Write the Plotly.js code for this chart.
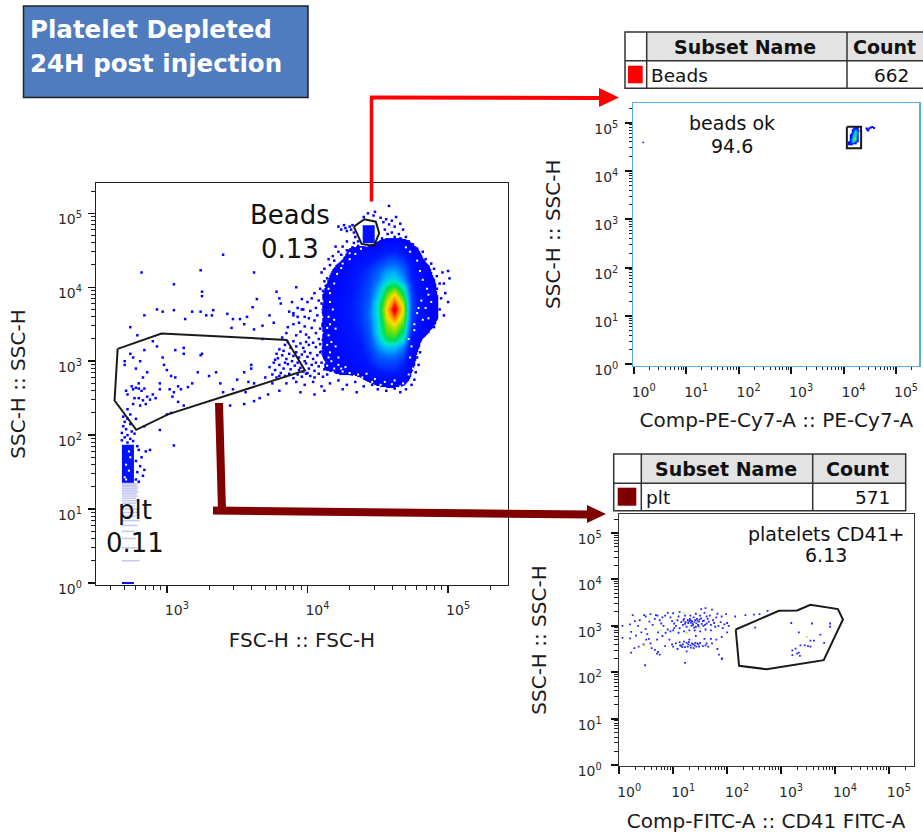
<!DOCTYPE html>
<html><head><meta charset="utf-8">
<script src="https://cdn.plot.ly/plotly-3.0.1.min.js"></script>
<style>html,body{margin:0;padding:0;background:#fff}</style></head>
<body><div id="chart" style="width:923px;height:833px"></div>
<script>
// ---------- tick labels ----------
const tickValsMainX = [1e3, 1e4, 1e5];
const tickTextMainX = ['10<sup>3</sup>', '10<sup>4</sup>', '10<sup>5</sup>'];
const tickValsFull = [1, 10, 100, 1e3, 1e4, 1e5];
const tickTextFull = ['10<sup>0</sup>', '10<sup>1</sup>', '10<sup>2</sup>', '10<sup>3</sup>', '10<sup>4</sup>', '10<sup>5</sup>'];

// ---------- main density (log10 FSC columns, log10 SSC rows, relative density) ----------
const densLogFsc = [3.90,3.96,4.02,4.08,4.14,4.20,4.26,4.32,4.38,4.44,4.50,4.56,4.62,4.68,4.74,4.80,4.86,4.92,4.98,5.04];
const densLogSsc = [4.90,4.80,4.70,4.60,4.50,4.40,4.30,4.20,4.10,4.00,3.90,3.80,3.70,3.60,3.50,3.40,3.30,3.20,3.10,3.00,2.90,2.80,2.70,2.60];
const densZ = [
 [0,0,0,0,0,0,0,0,0, 0, 0, 0, 0, 0, 0, 0,0,0,0,0],
 [0,0,0,0,0,0,0,0,0, 0, 0, 0, 0, 0, 0, 0,0,0,0,0],
 [0,0,0,0,0,0,0,0,0, 0, 0, 0, 0, 0, 0, 0,0,0,0,0],
 [0,0,0,0,0,0,0,0,0, 2, 6,12,14,10, 4, 0,0,0,0,0],
 [0,0,0,0,0,0,2,8,11,13,15,18,20,16, 9, 3,0,0,0,0],
 [0,0,0,0,0,0,5,11,15,18,22,27,29,24,14, 6,0,0,0,0],
 [0,0,0,0,0,4,9,14,19,22,28,35,37,30,18,10,4,0,0,0],
 [0,0,0,0,2,7,11,17,21,26,34,43,45,35,20,12,6,0,0,0],
 [0,0,0,0,4,9,13,19,23,28,38,50,54,42,22,13,7,3,0,0],
 [0,0,0,2,5,10,14,19,24,30,44,62,70,55,26,14,8,3,0,0],
 [0,0,0,3,6,11,15,20,25,32,50,72,84,66,28,15,8,4,2,0],
 [0,0,0,2,7,12,16,21,26,34,56,78,93,76,30,15,8,4,2,0],
 [0,0,0,3,7,12,17,21,26,36,58,83,100,80,30,15,8,4,2,0],
 [0,0,0,2,7,12,17,21,26,36,56,80,92,76,28,15,8,4,2,0],
 [0,0,0,3,8,12,16,20,25,34,54,75,82,70,26,13,7,3,0,0],
 [0,0,0,2,7,11,15,19,23,32,54,70,74,62,22,10,4,0,0,0],
 [0,0,0,3,7,11,14,18,22,30,48,64,66,54,18, 5,0,0,0,0],
 [0,0,2,3,6,10,13,16,20,28,42,50,50,40,12, 3,0,0,0,0],
 [0,0,3,3,7,9,12,15,19,24,34,38,38,30,9, 0,0,0,0,0],
 [0,2,3,2,5,8,11,13,16,22,28,30,30,24, 7, 0,0,0,0,0],
 [0,0,2,3,5,7,9,10,12,17,22,24,24,18, 5, 0,0,0,0,0],
 [0,0,0,0,0,2,3,3,5,11,14,16,16,12, 3, 0,0,0,0,0],
 [0,0,0,0,0,0,0,0,0, 3, 6, 8, 8, 6, 0, 0,0,0,0,0],
 [0,0,0,0,0,0,0,0,0, 0, 0, 0, 0, 0, 0, 0,0,0,0,0]
];
const beadBlockFscEdges = [24700, 30000];
const beadBlockSscEdges = [39800, 69000];
const blockZ = [[15]];

// ---------- platelet column: dense block, discrete low SSC levels ----------
const pltBlockFscEdges = [479, 583];
const pltBlockSscEdges = [22.6, 74];
const pltLevels = [2,3,4,5,6,7,8,9,10,11,12,13,14,15,16,17,18,19,20,21,22];
const pltLevelEnd = [640,610,600,590,620,640,600,625,635,590,600,620,605,625,610,630,615,620,625,610,630];
const pltBottomLevel = [1, 1];
const pltBottomFsc = [479, 583];

// ---------- events, [log10 FSC, log10 SSC] ----------
const gateEvents = [[2.70,3.00],[2.70,2.95],[2.71,2.60],[2.72,2.55],[2.75,2.66],[2.76,2.62],[2.78,2.64],[2.80,2.63],[2.82,2.60],[2.84,2.63],[2.77,2.50],[2.80,2.50],[2.83,2.47],[2.86,2.52],[2.88,2.48],[2.90,2.55],[2.92,2.50],[2.85,2.42],[2.81,2.40],[2.76,2.42],[2.72,2.35],[2.74,2.28],[2.78,2.22],[2.80,2.70],[2.83,2.78],[2.86,2.85],[2.78,2.90],[2.74,3.10],[2.76,3.05],[2.81,3.00],[2.84,3.15],[2.90,3.27],[2.93,3.20],[2.97,3.05],[2.98,2.95],[3.00,2.88],[3.03,2.80],[3.06,2.78],[3.08,2.66],[3.02,2.62],[3.05,2.58],[3.10,2.62],[3.04,2.52],[3.08,2.45],[3.12,2.40],[3.00,2.28],[3.03,2.30],[2.95,2.70],[2.95,2.62],[3.15,2.65],[3.18,2.70],[3.22,2.85],[3.12,3.10],[3.06,3.15],[3.12,3.18],[3.25,3.10],[3.24,3.08],[3.30,2.80],[3.35,2.85],[3.38,2.70],[3.40,2.58],[3.47,2.62],[3.50,2.75],[3.55,2.85],[3.60,2.95],[3.58,2.72],[3.62,2.70],[3.60,2.90],[3.70,2.78],[3.75,2.70],[3.80,2.80],[3.72,2.55],[3.66,2.50],[3.62,2.46],[3.55,2.42],[3.45,2.40],[3.56,2.58],[2.84,2.12],[2.95,2.07],[3.05,1.86]];
const upperEvents = [[2.82,4.20],[3.05,4.04],[3.24,4.23],[3.40,4.44],[3.25,3.94],[3.25,3.88],[3.64,3.84],[3.78,3.94],[3.80,3.85],[3.81,3.78],[3.62,4.20],[3.92,4.00],[3.89,3.80],[3.87,3.67],[3.90,3.65],[3.96,3.70],[3.93,3.60],[3.61,3.73],[3.43,3.64],[3.33,3.69],[3.28,3.62],[3.24,3.67],[3.18,3.67],[3.05,3.69],[2.97,3.67],[2.93,3.70],[2.84,3.62],[3.13,3.57],[3.32,3.62],[3.47,3.57],[3.52,3.57],[3.57,3.60],[3.68,3.48],[3.73,3.62],[3.76,3.52],[3.62,3.43],[3.68,3.30],[2.74,3.46],[2.79,3.35],[3.46,3.45],[3.55,3.50]];
const edgeEvents = [[4.05,3.92],[4.09,3.98],[4.12,3.88],[4.03,3.85],[4.08,3.82],[4.10,3.78],[4.00,3.80],[3.96,3.84],[4.13,3.74],[4.06,3.72],[3.97,3.70],[4.02,3.68],[4.11,3.66],[4.07,3.62],[3.93,3.72],[3.90,3.62],[3.98,3.60],[4.01,3.58],[4.05,3.55],[4.12,3.52],[3.94,3.52],[3.90,3.50],[3.86,3.46],[3.98,3.47],[4.03,3.45],[4.09,3.44],[4.13,3.40],[4.06,3.38],[3.99,3.36],[3.95,3.40],[3.92,3.35],[3.85,3.38],[3.82,3.32],[4.01,3.32],[4.08,3.30],[4.12,3.28],[3.78,3.10],[3.80,3.16],[3.84,3.22],[3.86,3.26],[3.88,3.18],[3.90,3.27],[3.92,3.20],[3.95,3.24],[3.97,3.18],[3.99,3.26],[4.01,3.22],[4.04,3.25],[4.06,3.19],[4.09,3.23],[4.11,3.18],[3.76,2.98],[3.79,3.04],[3.82,3.08],[3.85,3.03],[3.87,3.10],[3.90,3.07],[3.92,3.12],[3.94,3.05],[3.96,3.09],[3.98,3.13],[4.00,3.06],[4.02,3.11],[4.04,3.03],[4.07,3.08],[4.10,3.13],[4.12,3.04],[3.73,2.92],[3.77,2.88],[3.80,2.95],[3.83,2.90],[3.86,2.96],[3.88,2.89],[3.91,2.94],[3.93,2.98],[3.95,2.91],[3.97,2.86],[3.99,2.97],[4.01,2.90],[4.03,2.95],[4.05,2.87],[4.08,2.93],[4.10,2.98],[4.12,2.89],[3.75,2.82],[3.78,2.78],[3.81,2.84],[3.84,2.80],[3.87,2.83],[3.90,2.77],[3.93,2.82],[3.96,2.79],[3.99,2.83],[4.02,2.80],[4.05,2.78],[4.08,2.83],[4.11,2.79],[4.14,2.82],[3.85,2.70],[3.92,2.72],[3.98,2.68],[4.04,2.72],[4.10,2.66],[4.16,2.70],[4.22,2.74],[4.28,2.68],[4.34,2.72],[4.40,2.66],[4.25,2.62],[4.12,2.60],[3.95,2.58],[4.46,2.68],[4.50,2.62],[4.56,2.60],[4.62,2.63],[4.66,2.58],[4.70,2.62],[4.35,2.58],[4.05,2.55],[3.80,2.60],[4.80,4.42],[4.84,4.38],[4.88,4.32],[4.90,4.25],[4.85,4.20],[4.92,4.15],[4.88,4.10],[4.94,4.05],[4.96,4.20],[5.00,4.22],[5.01,4.12],[4.97,4.05],[4.92,3.98],[4.98,3.92],[4.95,3.85],[5.00,3.80],[4.90,3.75],[4.94,3.70],[4.97,3.62],[4.92,3.58],[4.87,3.52],[4.90,3.46],[4.86,3.40],[4.83,3.35],[4.80,3.28],[4.78,3.22],[4.22,4.82],[4.24,4.78],[4.26,4.84],[4.27,4.80],[4.28,4.76],[4.30,4.82],[4.31,4.78],[4.32,4.84],[4.33,4.74],[4.34,4.68],[4.28,4.62],[4.33,4.60],[4.36,4.62],[4.25,4.55],[4.40,4.95],[4.43,5.00],[4.47,4.97],[4.52,4.94],[4.54,4.88],[4.56,4.92],[4.58,4.85],[4.60,4.90],[4.62,4.82],[4.63,4.95],[4.66,4.86],[4.68,4.78],[4.55,4.78],[4.57,4.72],[4.60,4.74],[4.62,4.68],[4.65,4.72],[4.70,4.68],[4.58,5.10],[4.48,5.02],[4.53,4.66],[4.66,4.66],[4.72,4.62],[4.75,4.58],[4.78,4.52],[4.82,4.48],[4.20,4.55],[4.18,4.42],[4.15,4.38],[4.22,4.48],[4.12,4.25],[4.10,4.20],[4.16,4.30],[4.19,4.36],[4.24,4.44],[4.28,4.50],[4.32,4.54],[4.36,4.56],[4.14,4.12],[4.12,4.08],[4.11,3.95],[4.13,4.02],[3.83,3.14],[3.89,3.00],[3.94,2.88],[4.00,2.84],[4.06,2.98],[4.13,2.95],[4.09,3.12],[4.13,3.16],[3.98,3.00],[3.84,2.98],[3.77,3.02],[4.80,3.40],[4.82,3.48],[4.84,3.56],[4.86,3.64],[4.88,3.72],[4.87,3.84],[4.89,3.92],[4.86,4.00],[4.90,4.02],[4.84,4.12],[4.86,4.28],[4.83,4.32],[4.80,3.12],[4.78,3.05],[4.79,2.95],[4.77,2.85],[4.76,2.75],[4.74,2.68]];
const columnEvents = [[2.69,2.25],[2.72,2.22],[2.70,2.18],[2.74,2.15],[2.69,2.12],[2.71,2.08],[2.75,2.05],[2.68,2.03],[2.72,2.00],[2.77,2.02],[2.70,1.97],[2.74,1.95],[2.68,1.93],[2.76,1.92],[2.72,1.90],[2.79,1.85],[2.80,1.80],[2.85,1.78],[2.82,1.70],[2.78,1.65],[2.81,1.58],[2.84,1.53],[2.79,1.50],[2.83,1.45],[2.78,1.40],[2.80,1.37],[2.88,1.80]];
const gapEvents = [[4.15,3.35],[4.17,3.00],[4.16,3.12],[4.19,2.90],[4.22,3.05],[4.18,2.85],[4.25,2.86],[4.30,2.84],[4.14,3.22],[4.20,3.20],[4.24,2.90],[4.36,2.82],[4.42,2.83],[4.48,2.76],[4.55,2.72],[4.62,2.74],[4.68,2.70],[4.72,3.30],[4.74,3.20],[4.73,3.05],[4.75,2.90],[4.72,2.82],[4.76,3.50],[4.78,3.65],[4.74,2.75],[4.86,3.90],[4.82,4.10],[4.18,3.70],[4.16,3.92],[4.25,4.32],[4.30,4.46],[4.15,3.60],[4.16,3.50],[4.14,3.45],[4.15,3.05],[4.17,3.26],[4.14,2.94],[4.16,3.80],[4.15,3.98],[4.19,4.05],[4.21,4.18],[4.24,4.26],[4.30,4.38],[4.34,4.45],[4.38,4.52],[4.42,4.56],[4.20,3.44],[4.19,3.56],[4.22,2.95],[4.27,2.92],[4.33,2.80],[4.39,2.78],[4.46,2.72],[4.52,2.68],[4.60,2.69],[4.66,2.66],[4.76,3.42],[4.79,3.72],[4.81,3.82],[4.84,3.72],[4.86,3.58],[4.82,3.56],[4.80,4.22],[4.78,4.36],[4.73,4.48],[4.70,4.54],[4.85,3.98],[4.88,3.80],[2.71,1.60],[2.73,1.52],[2.70,1.43],[2.74,1.70],[2.71,1.40],[2.73,1.78]];
const beadSideEvents = [[4.44,4.88],[4.45,4.86],[4.47,4.84],[4.49,4.88],[4.52,4.90],[4.55,4.91],[4.58,4.89]];
const beadStrayEvents = [[0.18,4.59]];
const pltFitcEvents = [[.06,3.0],[.06,2.74],[.20,3.03],[.22,2.87],[.29,3.10],[.31,2.79],[.25,3.23],[.46,3.23],[.49,3.20],[.58,3.25],[.68,3.23],[.71,3.22],[.66,3.15],[.49,2.93],[.41,2.86],[.20,2.73],[.56,3.09],[.62,3.02],[.75,3.12],[.78,3.05],[.80,3.18],[.82,3.0],[.85,3.22],[.90,3.28],[.95,3.18],[.98,3.10],[1.0,3.27],[1.02,3.05],[1.05,3.0],[1.08,3.12],[1.1,3.2],[1.12,3.3],[1.15,3.08],[1.18,3.02],[1.2,3.15],[1.22,3.22],[1.25,2.98],[1.28,3.06],[1.3,3.1],[1.32,3.12],[1.34,3.0],[1.36,3.05],[1.38,3.18],[1.4,3.08],[1.42,2.98],[1.44,3.15],[1.46,3.02],[1.48,3.09],[1.5,3.22],[1.52,3.36],[1.55,3.1],[1.56,3.0],[1.58,3.28],[1.6,3.38],[1.62,3.05],[1.64,3.15],[1.66,3.09],[1.68,3.22],[1.7,3.02],[1.72,3.35],[1.74,3.12],[1.76,3.06],[1.78,2.98],[1.8,3.18],[1.82,3.26],[1.84,3.0],[1.88,3.08],[1.9,3.2],[1.92,2.95],[1.95,3.03],[1.98,3.25],[2.0,3.06],[2.03,3.0],[2.0,2.86],[1.9,2.76],[.36,2.55],[.28,2.52],[.22,2.42],[.45,2.6],[.58,2.62],[.6,2.52],[.72,2.44],[.66,2.48],[.75,2.38],[.85,2.56],[.93,2.7],[.98,2.6],[1.0,2.55],[1.05,2.62],[1.08,2.5],[1.12,2.65],[1.15,2.57],[1.18,2.6],[1.2,2.66],[1.22,2.54],[1.25,2.45],[1.28,2.6],[1.3,2.7],[1.32,2.58],[1.35,2.62],[1.38,2.52],[1.4,2.58],[1.42,2.78],[1.45,2.62],[1.48,2.55],[1.5,2.63],[1.55,2.56],[1.58,2.72],[1.6,2.58],[1.62,2.62],[1.65,2.55],[1.7,2.72],[1.72,2.62],[1.8,2.7],[1.82,2.5],[1.22,2.2],[.48,2.15],[1.9,2.28],[1.85,2.38],[.7,2.4],[2.15,3.2],[2.34,3.23],[2.5,3.24],[2.6,3.25],[2.75,3.32],[1.91,2.30],[.35,3.0],[.38,3.12],[.52,2.82],[.5,2.7],[.55,2.72],[.72,2.86],[.8,2.78],[.7,2.7],[.86,2.85],[.9,2.92],[.95,2.88],[1.0,2.9],[1.1,2.85],[1.2,2.88],[1.3,2.9],[1.4,2.9],[1.5,2.88],[1.6,2.92],[1.7,2.9],[1.02,2.95],[1.12,2.95],[1.22,3.04],[1.32,3.22],[1.42,3.26],[1.52,3.16],[1.62,3.2],[1.35,3.10],[1.37,3.02],[1.41,3.12],[1.43,3.06],[1.39,2.96],[1.45,3.11],[1.33,3.07],[1.31,3.15],[1.47,2.99],[1.49,3.14],[1.53,3.04],[1.57,3.11],[1.59,3.02],[1.27,3.12],[1.23,3.08],[1.19,3.11],[1.25,2.63],[1.27,2.55],[1.29,2.65],[1.33,2.53],[1.37,2.6],[1.41,2.63],[1.43,2.55],[1.17,2.54],[1.13,2.58],[1.47,2.6],[3.19,3.06],[3.575,3.05],[3.33,2.86],[3.73,2.81],[3.91,3.05],[3.91,2.98],[3.545,2.68],[3.61,2.68],[3.80,2.63],[3.36,2.58],[3.44,2.58],[3.50,2.56],[3.545,2.55],[3.21,2.47],[3.27,2.51],[3.33,2.42],[3.35,2.35],[3.21,2.37],[3.30,2.40],[2.52,2.96]];
const pltFitcDense = [[.77,2.9],[1.2,3.28],[1.42,3.08],[.47,2.58],[1.35,2.55],[1.25,2.85],[1.5,2.95],[3.48,2.755]];

// ---------- bead density in the PE-Cy7 panel ----------
const beadLogX = [4.10,4.14,4.18,4.215,4.25,4.29];
const beadLogY = [4.90,4.85,4.787,4.725,4.66,4.60,4.56];
const beadZ = [
 [0,0,0,10,10,0],
 [0,0,20,50,40,5],
 [0,5,35,60,45,0],
 [0,15,45,70,30,0],
 [0,30,60,88,30,0],
 [6,30,45,20,0,0],
 [20,12,0,0,0,0]
];

// ---------- gates, [log10 x, log10 y] ----------
const gatePlt = [[2.650,3.167],[2.962,3.374],[3.852,3.288],[3.982,2.874],[3.012,2.284],[2.782,2.072],[2.628,2.468],[2.650,3.167]];
const gateBeads = [[4.330,4.820],[4.404,4.919],[4.486,4.887],[4.510,4.730],[4.472,4.559],[4.385,4.586],[4.330,4.820]];
const gateBeadsOk = [[4.063,4.917],[4.335,4.917],[4.335,4.470],[4.063,4.470],[4.063,4.917]];
const gateCd41 = [[2.16,2.921],[2.222,2.137],[2.732,2.065],[3.791,2.259],[4.148,3.137],[4.055,3.36],[3.545,3.453],[3.298,3.331],[2.96,3.324],[2.16,2.921]];

const pow = v => Math.pow(10, v);
const xs = a => a.map(p => pow(p[0]));
const ys = a => a.map(p => pow(p[1]));

const densCS = [[0,'rgba(255,255,255,0)'],[0.039,'rgba(255,255,255,0)'],[0.04,'#0000ff'],[0.2,'#0018ff'],[0.35,'#0068ff'],[0.45,'#00b0ff'],[0.55,'#00e8c8'],[0.65,'#00dc50'],[0.74,'#80e000'],[0.82,'#ffe000'],[0.9,'#ff8000'],[0.96,'#ff0000'],[1,'#f00000']];

function events(arr, xa, ya, color, size) {
  return {type:'scatter', mode:'markers', xaxis:xa, yaxis:ya, x:xs(arr), y:ys(arr),
    marker:{symbol:'square', size:size, color:color, line:{width:0}}, hoverinfo:'skip', showlegend:false};
}
function gate(arr, xa, ya) {
  return {type:'scatter', mode:'lines', xaxis:xa, yaxis:ya, x:xs(arr), y:ys(arr),
    line:{color:'#1a1a1a', width:2}, hoverinfo:'skip', showlegend:false};
}
const stripeX = [], stripeY = [];
pltLevels.forEach((lv, i) => { stripeX.push(pltBlockFscEdges[0], pltLevelEnd[i], null); stripeY.push(lv, lv, null); });

const traces = [
  {type:'heatmap', xaxis:'x', yaxis:'y', x:densLogFsc.map(pow), y:densLogSsc.map(pow).reverse(), z:densZ.slice().reverse(),
   zmin:0, zmax:100, zsmooth:'best', colorscale:densCS, showscale:false, hoverinfo:'skip'},
  {type:'heatmap', xaxis:'x', yaxis:'y', x:beadBlockFscEdges, y:beadBlockSscEdges, z:blockZ, zmin:0, zmax:100, colorscale:densCS, showscale:false, hoverinfo:'skip'},
  {type:'scatter', mode:'lines', xaxis:'x', yaxis:'y', x:stripeX, y:stripeY, line:{color:'#c6c6f6', width:1.5}, hoverinfo:'skip', showlegend:false, connectgaps:false},
  {type:'scatter', mode:'lines', xaxis:'x', yaxis:'y', x:pltBottomFsc, y:pltBottomLevel, line:{color:'#1010ee', width:2}, hoverinfo:'skip', showlegend:false},
  {type:'heatmap', xaxis:'x', yaxis:'y', x:pltBlockFscEdges, y:pltBlockSscEdges, z:blockZ, zmin:0, zmax:100, colorscale:densCS, showscale:false, hoverinfo:'skip'},
  events(gateEvents,'x','y','#0000ff',2.5),
  events(upperEvents,'x','y','#0000ff',2.5),
  events(edgeEvents,'x','y','#0000ff',2.5),
  events(columnEvents,'x','y','#0000ff',2.5),
  events(gapEvents,'x','y','#ffffff',2),
  gate(gatePlt,'x','y'),
  gate(gateBeads,'x','y'),
  {type:'heatmap', xaxis:'x2', yaxis:'y2', x:beadLogX.map(pow), y:beadLogY.map(pow).reverse(), z:beadZ.slice().reverse(),
   zmin:0, zmax:100, zsmooth:'best', colorscale:densCS, showscale:false, hoverinfo:'skip'},
  events(beadSideEvents,'x2','y2','#0000ff',2),
  events(beadStrayEvents,'x2','y2','#0000ff',1.5),
  gate(gateBeadsOk,'x2','y2'),
  events(pltFitcEvents,'x3','y3','#2222ff',1.8),
  events(pltFitcDense,'x3','y3','#b4ec40',1.8),
  gate(gateCd41,'x3','y3')
];

const W = 923, H = 833;
const px = v => v / W, py = v => 1 - v / H;
const FONT = '"DejaVu Sans", Verdana, sans-serif';

function axis(dom, rng, vals, text, title, anchor, horizontal, lineColor, tw, standoff, labelOff) {
  return {
    type:'log', domain:dom, range:rng, anchor:anchor, tickmode:'array', tickvals:vals, ticktext:text,
    ticks:'outside', ticklen:7, tickwidth:tw, tickcolor:'#111',
    minor:{ticks:'outside', ticklen:3.5, tickwidth:1, tickcolor:'#222', dtick:'D1'},
    showgrid:false, zeroline:false, showline:true, mirror:true, linecolor:lineColor, linewidth:1.2,
    tickfont:{family:FONT, size:14, color:'#2a2a2a'}, ticklabelshift: horizontal ? 10 : 6, ticklabelstandoff:labelOff,
    title:{text:title, font:{family:FONT, size:20, color:'#1a1a1a'}, standoff:standoff}
  };
}

function rect(x0,y0,x1,y1,fill,lineC,lw){return {type:'rect',xref:'paper',yref:'paper',x0:px(x0),x1:px(x1),y0:py(y0),y1:py(y1),fillcolor:fill,line:{color:lineC,width:lw}};}
function seg(x0,y0,x1,y1,c,w){return {type:'line',xref:'paper',yref:'paper',x0:px(x0),x1:px(x1),y0:py(y0),y1:py(y1),line:{color:c,width:w}};}
function tri(pts,c){return {type:'path',xref:'paper',yref:'paper',path:'M'+pts.map(p=>px(p[0])+','+py(p[1])).join(' L')+' Z',fillcolor:c,line:{color:c,width:0}};}
function label(t,x,y,size,opts){return Object.assign({xref:'paper',yref:'paper',x:px(x),y:py(y),text:t,showarrow:false,xanchor:'center',yanchor:'middle',font:{family:FONT,size:size,color:'#111'}},opts||{});}
const bold = (size, color) => ({font:{family:FONT,size:size,color:color,weight:700}});

const RED='#ff0000', DARK='#800000';
const shapes = [
  rect(23.5,6,308,97.5,'#4f7cbe','#222',1.5),
  rect(646.7,32,923,60.7,'#e3e3e3','#333',0),
  rect(625,32,925,88.3,'rgba(0,0,0,0)','#333',1.5),
  seg(625,60.7,923,60.7,'#333',1.5), seg(646.7,32,646.7,88.3,'#333',1.5), seg(847,32,847,88.3,'#333',1.5),
  rect(628,65.7,642.7,83.3,RED,RED,0),
  rect(641.3,454,905.7,483.3,'#e3e3e3','#333',0),
  rect(613.7,454,905.7,510.7,'rgba(0,0,0,0)','#333',1.5),
  seg(613.7,483.3,905.7,483.3,'#333',1.5), seg(641.3,454,641.3,510.7,'#333',1.5), seg(812.7,454,812.7,510.7,'#333',1.5),
  rect(617.7,487.7,636.3,505.7,DARK,DARK,0),
  seg(371.5,201.5,371.5,97,RED,3.5), seg(370,97.5,600,98,RED,4),
  tri([[599,88],[619,97.5],[599,107]],RED),
  seg(219,403,222,510,DARK,8), seg(213,510.5,590,514.5,DARK,8),
  tri([[587,505],[606,514],[587,523]],DARK)
];
const annotations = [
  label('Platelet Depleted',27.5,29,24.5,Object.assign({xanchor:'left'},bold(24.5,'#fff'))),
  label('24H post injection',27.5,64,24.5,Object.assign({xanchor:'left'},bold(24.5,'#fff'))),
  label('Subset Name',745,47,19,bold(19,'#111')),
  label('Count',884,47,19,bold(19,'#111')),
  label('Beads',649,75,18.5,{xanchor:'left'}),
  label('662',891.5,75,18.5),
  label('Subset Name',725.7,469,19,bold(19,'#111')),
  label('Count',857.7,469,19,bold(19,'#111')),
  label('plt',644,497.7,18.5,{xanchor:'left'}),
  label('571',872.7,497.7,18.5),
  label('Beads',290,215,26),
  label('0.13',290,249,26),
  label('plt',135,510,26),
  label('0.11',135,543,26),
  label('beads ok',732,123,19),
  label('94.6',732,146,19),
  label('platelets CD41+',826,534,19),
  label('6.13',826,555,19)
];

const layout = {
  width:W, height:H, autosize:false, margin:{l:0,r:0,t:0,b:0}, paper_bgcolor:'#fff', plot_bgcolor:'rgba(0,0,0,0)', showlegend:false,
  xaxis: axis([96/W,508/W],[2.496,5.426],tickValsMainX,tickTextMainX,'FSC-H :: FSC-H','y',true,'#222',1.4,16,5),
  yaxis: axis([1-585/H,1-183/H],[-0.027,5.41],tickValsFull,tickTextFull,'SSC-H :: SSC-H','x',false,'#222',1.4,27,3),
  xaxis2: axis([633.3/W,919.3/W],[-0.008,5.444],tickValsFull,tickTextFull,'Comp-PE-Cy7-A :: PE-Cy7-A','y2',true,'#5aaedc',2,14,6),
  yaxis2: axis([1-365.7/H,1-102.7/H],[-0.03,5.414],tickValsFull,tickTextFull,'SSC-H :: SSC-H','x2',false,'#5aaedc',2,28,4),
  xaxis3: axis([618.7/W,913.7/W],[-0.01,5.46],tickValsFull,tickTextFull,'Comp-FITC-A :: CD41 FITC-A','y3',true,'#333',2,15,6),
  yaxis3: axis([1-765.7/H,1-514.3/H],[-0.015,5.403],tickValsFull,tickTextFull,'SSC-H :: SSC-H','x3',false,'#333',2,25,6),
  shapes:shapes, annotations:annotations
};
Plotly.newPlot('chart', traces, layout, {displayModeBar:false, staticPlot:true});
</script></body></html>
